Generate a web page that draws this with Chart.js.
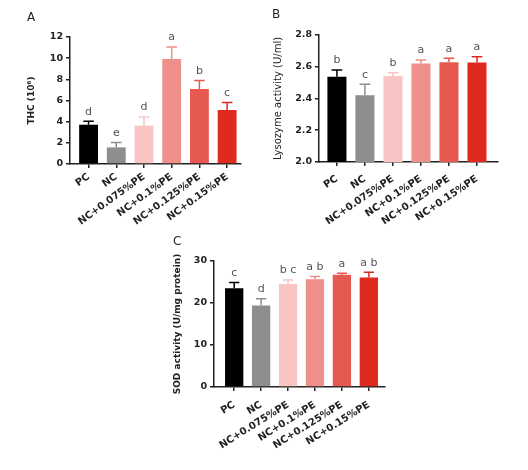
<!DOCTYPE html>
<html>
<head>
<meta charset="utf-8">
<script src="https://cdn.jsdelivr.net/npm/chart.js@4.4.1/dist/chart.umd.min.js"></script>
<style>
  html, body { margin: 0; padding: 0; background: #fff; }
  #page { position: relative; width: 528px; height: 470px; overflow: hidden; }
  .panel { position: absolute; }
  .tag { position: absolute; font: 12px "DejaVu Sans", sans-serif; color: #222; line-height: 12px; }
</style>
</head>
<body>
<div id="page">
  <div class="panel" style="left:0;top:0;width:260px;height:240px"><canvas id="thcChart"></canvas></div>
  <div class="panel" style="left:260px;top:0;width:268px;height:240px"><canvas id="lysChart"></canvas></div>
  <div class="panel" style="left:130px;top:225px;width:270px;height:245px"><canvas id="sodChart"></canvas></div>
  <div class="tag" style="left:27px;top:11px">A</div>
  <div class="tag" style="left:272px;top:8px">B</div>
  <div class="tag" style="left:173px;top:235px">C</div>
</div>
<script>
const categories = ['PC', 'NC', 'NC+0.075%PE', 'NC+0.1%PE', 'NC+0.125%PE', 'NC+0.15%PE'];
const barColors = ['#000000', '#8e8e8e', '#f8c5c4', '#ef8f8a', '#e65950', '#de2a1f'];

// A: total haemocyte count
const thcMean = [3.71, 1.57, 3.62, 9.92, 7.09, 5.10];
const thcErr = [0.32, 0.47, 0.82, 1.14, 0.81, 0.72];
const thcLetters = ['d', 'e', 'd', 'a', 'b', 'c'];

// B: lysozyme
const lysMean = [2.537, 2.421, 2.541, 2.621, 2.628, 2.626];
const lysErr = [0.042, 0.068, 0.021, 0.021, 0.025, 0.037];
const lysLetters = ['b', 'c', 'b', 'a', 'a', 'a'];

// C: SOD
const sodMean = [23.5, 19.4, 24.5, 25.65, 26.7, 26.1];
const sodErr = [1.4, 1.6, 1.0, 0.65, 0.4, 1.2];
const sodLetters = ['c', 'd', 'b c', 'a b', 'a', 'a b'];

const ink = '#222';
const fontFamily = '"DejaVu Sans", Verdana, sans-serif';

// error bar caps + significance letters, drawn from the data through the scales
const errorBars = {
    id: 'errorBars',
    afterDatasetsDraw(chart, args, opts) {
        const ctx = chart.ctx;
        const yScale = chart.scales.y;
        const meta = chart.getDatasetMeta(0);
        ctx.save();
        meta.data.forEach(function (bar, i) {
            const top = yScale.getPixelForValue(opts.mean[i] + opts.err[i]);
            const capHalf = bar.width * 0.28;
            ctx.strokeStyle = barColors[i];
            ctx.lineWidth = 1.5;
            ctx.beginPath();
            ctx.moveTo(bar.x, bar.y);
            ctx.lineTo(bar.x, top);
            ctx.moveTo(bar.x - capHalf, top);
            ctx.lineTo(bar.x + capHalf, top);
            ctx.stroke();

            ctx.fillStyle = '#555';
            ctx.font = '11px ' + fontFamily;
            ctx.textAlign = 'center';
            ctx.textBaseline = 'bottom';
            ctx.fillText(opts.letters[i], bar.x, top - 4);
        });
        ctx.restore();
    }
};

function makeChart(id, mean, err, letters, yOpts, box) {
    const ctx = document.getElementById(id).getContext('2d');
    return new Chart(ctx, {
        type: 'bar',
        data: {
            datasets: [{
                data: mean.map(function (v, i) { return { x: i, y: v }; }),
                backgroundColor: barColors,
                borderWidth: 0,
                barPercentage: 0.68,
                categoryPercentage: 1.0,
            }]
        },
        plugins: [errorBars],
        options: {
            responsive: true,
            maintainAspectRatio: false,
            animation: false,
            layout: { padding: { top: box.top, right: box.right, left: 0, bottom: 0 } },
            scales: {
                x: {
                    type: 'linear',
                    offset: false,
                    min: box.xMin,
                    max: box.xMax,
                    afterBuildTicks: function (s) {
                        s.ticks = categories.map(function (c, i) { return { value: i }; });
                    },
                    afterFit: function (s) { s.height = box.xHeight; },
                    ticks: {
                        autoSkip: false,
                        minRotation: box.rot,
                        maxRotation: box.rot,
                        padding: box.labelPad,
                        color: ink,
                        font: { family: fontFamily, size: 10, weight: 'bold' },
                        callback: function (v) { return categories[v]; }
                    },
                    grid: { offset: false, drawOnChartArea: false, drawTicks: true, tickLength: 4, color: ink, lineWidth: 1.5 },
                    border: { color: ink, width: 1.5 }
                },
                y: {
                    min: yOpts.min,
                    max: yOpts.max,
                    afterFit: function (s) { s.width = box.yWidth; },
                    ticks: {
                        stepSize: yOpts.step,
                        padding: 3,
                        color: ink,
                        font: { family: fontFamily, size: 9.5, weight: 'bold' },
                        callback: function (v) { return yOpts.decimals ? v.toFixed(yOpts.decimals) : v; }
                    },
                    title: {
                        display: true,
                        text: yOpts.title,
                        color: ink,
                        padding: { top: box.titlePad, bottom: 0 },
                        font: { family: fontFamily, size: yOpts.titleSize, weight: yOpts.titleWeight }
                    },
                    grid: { drawOnChartArea: false, drawTicks: true, tickLength: 4, color: ink, lineWidth: 1.5 },
                    border: { color: ink, width: 1.5 }
                }
            },
            plugins: {
                legend: { display: false },
                tooltip: { enabled: false },
                errorBars: { mean: mean, err: err, letters: letters }
            }
        }
    });
}

makeChart('thcChart', thcMean, thcErr, thcLetters,
    { min: 0, max: 12, step: 2, decimals: 0, title: 'THC (10\u2076)', titleSize: 9, titleWeight: 'bold' },
    { top: 37, right: 19, yWidth: 70, xHeight: 76, xMin: -0.67, xMax: 5.5, titlePad: 26, labelPad: 3, rot: 36 });

makeChart('lysChart', lysMean, lysErr, lysLetters,
    { min: 2.0, max: 2.8, step: 0.2, decimals: 1, title: 'Lysozyme activity (U/ml)', titleSize: 10, titleWeight: 'normal' },
    { top: 35, right: 30, yWidth: 59, xHeight: 78, xMin: -0.64, xMax: 5.75, titlePad: 12, labelPad: 7, rot: 34 });

makeChart('sodChart', sodMean, sodErr, sodLetters,
    { min: 0, max: 30, step: 10, decimals: 0, title: 'SOD activity (U/mg protein)', titleSize: 9, titleWeight: 'bold' },
    { top: 36, right: 15, yWidth: 84, xHeight: 83, xMin: -0.75, xMax: 5.6, titlePad: 42, labelPad: 8, rot: 32 });
</script>
</body>
</html>
